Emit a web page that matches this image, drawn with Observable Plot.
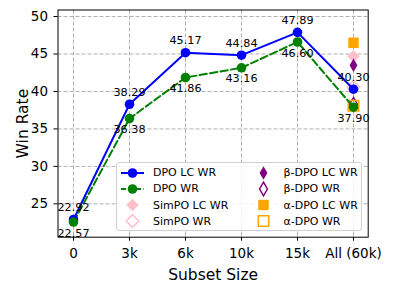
<!DOCTYPE html>
<html><head><meta charset="utf-8">
<script src="https://cdn.jsdelivr.net/npm/d3@7"></script>
<script src="https://cdn.jsdelivr.net/npm/@observablehq/plot@0.6"></script>
<style>
body{margin:0;background:#fff;}
#wrap{position:relative;width:393px;height:291px;font-family:"DejaVu Sans",sans-serif;}
#legend{position:absolute;left:115.5px;top:162px;width:246.5px;height:69px;box-sizing:border-box;border:1px solid #d0d0d0;border-radius:3px;background:rgba(255,255,255,0.85);}
.item{position:absolute;height:16px;display:flex;align-items:center;font-size:11px;color:#000;white-space:nowrap;}
.item svg{margin-right:8px;}
</style>
</head><body><div id="wrap"></div>
<script>
const categories = ["0", "3k", "6k", "10k", "15k", "All (60k)"];
const dpoLC = [22.92, 38.29, 45.17, 44.84, 47.89, 40.30];
const dpoWR = [22.57, 36.38, 41.86, 43.16, 46.60, 37.90];
const baselineCategory = "All (60k)";
const baselineNames = ["SimPO LC WR", "SimPO WR", "β-DPO LC WR", "β-DPO WR", "α-DPO LC WR", "α-DPO WR"];
const baselineValues = [44.7, 40.6, 43.5, 38.3, 46.5, 38.1];
const yTicks = [25, 30, 35, 40, 45, 50];

const lcRows = categories.map((c, i) => ({cat: c, v: dpoLC[i], s: "DPO LC WR"}));
const wrRows = categories.map((c, i) => ({cat: c, v: dpoWR[i], s: "DPO WR"}));
const baseRows = baselineNames.map((n, i) => ({cat: baselineCategory, v: baselineValues[i], s: n}));

const styleOf = {
  "SimPO LC WR": {symbol: "diamond2", color: "pink", filled: true, r: 5.7},
  "SimPO WR": {symbol: "diamond2", color: "pink", filled: false, r: 5.7},
  "β-DPO LC WR": {symbol: "diamond", color: "purple", filled: true, r: 4.1},
  "β-DPO WR": {symbol: "diamond", color: "purple", filled: false, r: 4.1},
  "α-DPO LC WR": {symbol: "square", color: "orange", filled: true, r: 5.9},
  "α-DPO WR": {symbol: "square", color: "orange", filled: false, r: 5.9}
};

const baseMarks = baseRows.map(d => {
  const st = styleOf[d.s];
  return Plot.dot([d], {x: "cat", y: "v", symbol: () => st.symbol, r: st.r,
    fill: st.filled ? st.color : "none", stroke: st.filled ? "none" : st.color, strokeWidth: 1.5});
});

const chart = Plot.plot({
  width: 393, height: 291,
  marginLeft: 57.5, marginRight: 25.3, marginTop: 9.5, marginBottom: 54.3,
  style: {fontFamily: "DejaVu Sans", fontSize: "13.5px", background: "white", color: "black"},
  x: {type: "point", domain: categories, padding: 0.25},
  y: {domain: [20.55, 50.87]},
  symbol: {type: "identity"},
  marks: [
    Plot.gridY(yTicks, {stroke: "#b0b0b0", strokeOpacity: 1, strokeDasharray: "4,2"}),
    Plot.gridX(categories, {stroke: "#b0b0b0", strokeOpacity: 1, strokeDasharray: "4,2"}),
    Plot.axisY(yTicks, {tickSize: 4, tickPadding: 6, fontSize: 13.5, label: "Win Rate", labelAnchor: "center", labelArrow: "none", labelOffset: 41}),
    Plot.axisX(categories, {tickSize: 4, tickPadding: 7, fontSize: 13.5, label: "Subset Size", labelAnchor: "center", labelArrow: "none", labelOffset: 43}),
    ...baseMarks,
    Plot.line(lcRows, {x: "cat", y: "v", stroke: "blue", strokeWidth: 2}),
    Plot.line(wrRows, {x: "cat", y: "v", stroke: "green", strokeWidth: 2, strokeDasharray: "7.4,3.2"}),
    Plot.dot(lcRows, {x: "cat", y: "v", r: 4.8, fill: "blue"}),
    Plot.dot(wrRows, {x: "cat", y: "v", r: 4.8, fill: "green"}),
    Plot.text(lcRows, {x: "cat", y: "v", text: d => d.v.toFixed(2), dy: -12, fontSize: 11.2, fill: "black"}),
    Plot.text(wrRows, {x: "cat", y: "v", text: d => d.v.toFixed(2), dy: 11, fontSize: 11.2, fill: "black"}),
    Plot.frame({stroke: "black", strokeWidth: 1})
  ]
});
const wrap = document.getElementById("wrap");
wrap.appendChild(chart);
chart.querySelectorAll("g[aria-label='y-axis label'] text, g[aria-label='x-axis label'] text").forEach(t => t.setAttribute("font-size", "15.5px"));

// legend
const legend = document.createElement("div");
legend.id = "legend";
wrap.appendChild(legend);
const legendItems = [
  {name: "DPO LC WR", kind: "line", color: "blue", dash: null},
  {name: "DPO WR", kind: "line", color: "green", dash: "5,2.5"},
  ...baselineNames.map(n => ({name: n, kind: "sym", ...styleOf[n]}))
];
legendItems.forEach((it, i) => {
  const col = i < 4 ? 0 : 1, row = i % 4;
  const div = document.createElement("div");
  div.className = "item";
  div.style.left = (col === 0 ? 3.5 : 134) + "px";
  div.style.top = (1.5 + row * 16.3) + "px";
  let svg;
  if (it.kind === "line") {
    svg = `<svg width="25" height="14"><line x1="1" x2="24" y1="7" y2="7" stroke="${it.color}" stroke-width="2" ${it.dash ? `stroke-dasharray="${it.dash}"` : ""}/><circle cx="12.5" cy="7" r="4.8" fill="${it.color}"/></svg>`;
  } else {
    const p = d3.symbol(it.symbol === "diamond2" ? d3.symbolDiamond2 : it.symbol === "diamond" ? d3.symbolDiamond : d3.symbolSquare, Math.PI * it.r * it.r)();
    svg = `<svg width="25" height="14" style="overflow:visible"><path transform="translate(12.5,7)" d="${p}" fill="${it.filled ? it.color : "none"}" stroke="${it.filled ? "none" : it.color}" stroke-width="1.5"/></svg>`;
  }
  div.innerHTML = svg + `<span>${it.name}</span>`;
  legend.appendChild(div);
});
</script>
</body></html>
